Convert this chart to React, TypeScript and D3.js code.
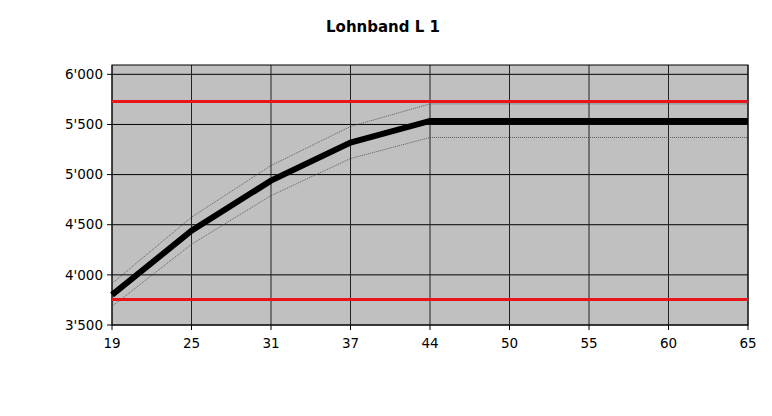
import React from 'react';
import * as d3 from 'd3';

// Alter (Kategorien)
const ages = ['19', '25', '31', '37', '44', '50', '55', '60', '65'];
// Lohnkurve
const salary = [3800, 4440, 4940, 5320, 5535, 5535, 5535, 5535, 5535];
// Band oben / unten (gepunktet)
const bandUpper = [3914, 4575, 5090, 5480, 5705, 5705, 5705, 5705, 5705];
const bandLower = [3686, 4305, 4790, 5160, 5370, 5370, 5370, 5370, 5370];
// Min / Max (rot)
const minLine = 3755;
const maxLine = 5728;
const yTicks = [3500, 4000, 4500, 5000, 5500, 6000];
const title = 'Lohnband L 1';

const W = 772;
const H = 416;
const margin = { top: 65, right: 24, bottom: 91, left: 112 };

const fmt = (v: number) => {
  const s = String(v);
  return s.slice(0, s.length - 3) + "'" + s.slice(-3);
};

const App = () => {
  const width = W - margin.left - margin.right;
  const height = H - margin.top - margin.bottom;

  const x = d3.scalePoint<string>().domain(ages).range([0, width]).padding(0);
  const y = d3.scaleLinear().domain([3500, 6093]).range([height, 0]);

  const line = d3
    .line<number>()
    .x((_, i) => x(ages[i]) as number)
    .y((d) => y(d));

  const font = "'DejaVu Sans', sans-serif";

  return (
    <svg
      width={W}
      height={H}
      style={{ position: 'absolute', left: 0, top: 0, background: '#fff' }}
    >
      <text
        x={383}
        y={32}
        textAnchor="middle"
        fontFamily={font}
        fontWeight="bold"
        fontSize={15}
      >
        {title}
      </text>
      <g transform={`translate(${margin.left},${margin.top})`}>
        <rect x={0} y={0} width={width} height={height} fill="#c0c0c0" />
        {/* Gitter horizontal */}
        {yTicks.map((t) => (
          <g key={t}>
            <line x1={0} x2={width} y1={y(t)} y2={y(t)} stroke="#000" strokeWidth={1} />
            <line x1={-5} x2={0} y1={y(t)} y2={y(t)} stroke="#000" strokeWidth={1} />
            <text
              x={-9}
              y={y(t)}
              dy="0.35em"
              textAnchor="end"
              fontFamily={font}
              fontSize={13.5}
            >
              {fmt(t)}
            </text>
          </g>
        ))}
        {/* Gitter vertikal */}
        {ages.map((a) => (
          <g key={a}>
            <line
              x1={x(a)}
              x2={x(a)}
              y1={0}
              y2={height}
              stroke="#222"
              strokeWidth={1}
            />
            <line x1={x(a)} x2={x(a)} y1={height} y2={height + 5} stroke="#000" />
            <text
              x={x(a)}
              y={height + 23}
              textAnchor="middle"
              fontFamily={font}
              fontSize={13.5}
            >
              {a}
            </text>
          </g>
        ))}
        <rect x={0} y={0} width={width} height={height} fill="none" stroke="#000" />
        {/* Band */}
        <path d={line(bandUpper) ?? ''} fill="none" stroke="#444" strokeWidth={0.8} strokeDasharray="1 1" />
        <path d={line(bandLower) ?? ''} fill="none" stroke="#444" strokeWidth={0.8} strokeDasharray="1 1" />
        {/* Min / Max */}
        <line x1={0} x2={width} y1={y(maxLine)} y2={y(maxLine)} stroke="#e8161c" strokeWidth={3} />
        <line x1={0} x2={width} y1={y(minLine)} y2={y(minLine)} stroke="#e8161c" strokeWidth={3} />
        {/* Lohnkurve */}
        <path d={line(salary) ?? ''} fill="none" stroke="#000" strokeWidth={6} strokeLinejoin="miter" />
      </g>
    </svg>
  );
};

export default App;
